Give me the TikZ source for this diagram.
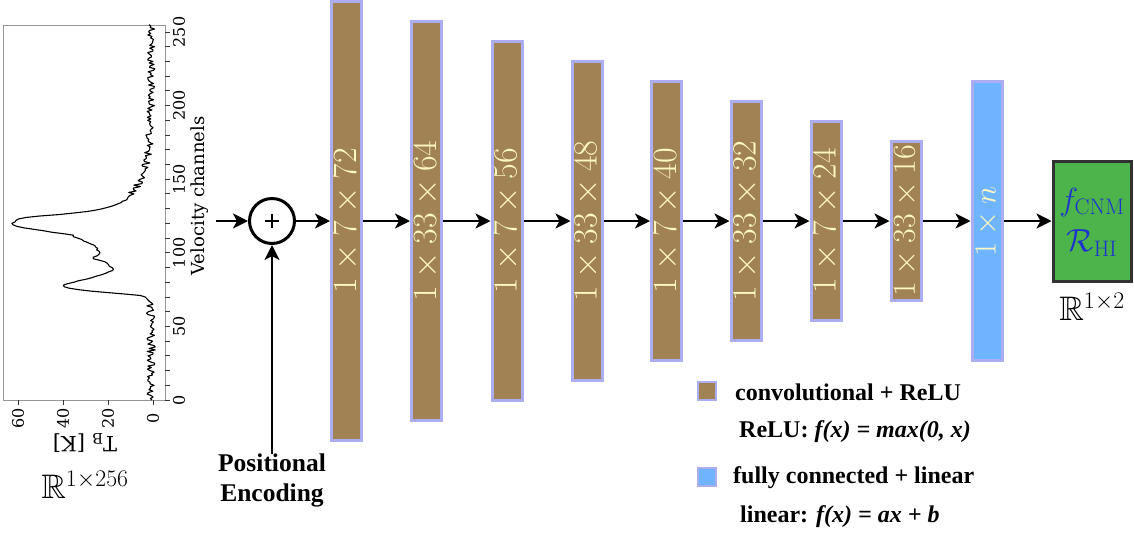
\RequirePackage{fix-cm}
\documentclass[tikz,border=0pt]{standalone}
\usepackage{amssymb}
\usepackage{fontspec}
\newfontfamily\plotfont{DejaVu Serif}
\newfontfamily\legfont{Liberation Serif}
\usetikzlibrary{arrows.meta}
\definecolor{brownc}{RGB}{160,130,85}
\definecolor{lavc}{RGB}{172,172,240}
\definecolor{bluec}{RGB}{110,180,255}
\definecolor{greenc}{RGB}{76,180,74}
\definecolor{lemon}{RGB}{255,248,195}
\definecolor{mathblue}{RGB}{30,50,205}
\definecolor{framec}{RGB}{150,150,150}
\begin{document}
\begin{tikzpicture}[x=1pt,y=-1pt,
  layer/.style={draw=lavc, line width=3, minimum width=30, inner sep=0},
  conv/.style={layer, fill=brownc},
  fc/.style={layer, fill=bluec},
  lbl/.style={rotate=90, text=lemon, inner sep=0, font=\fontsize{34}{40}\selectfont},
  arr/.style={line width=2.5, -{Stealth[length=15,width=15,inset=4]}},
  tick/.style={line width=0.9, black!80},
  ptxt/.style={font=\plotfont\fontsize{16}{19}\selectfont, inner sep=0},
  legtxt/.style={font=\legfont\bfseries\fontsize{24}{28}\selectfont, anchor=west, inner sep=0},
  legbox/.style={draw=lavc, line width=2.5, minimum width=18, minimum height=18, inner sep=0}]
\useasboundingbox (0,0) rectangle (1134,542);

% ---------- spectrum plot ----------
\pgfmathsetseed{7}
\draw[framec, line width=1] (3,25) rectangle (165,400);
\foreach \c in {0,10,...,250} \draw[tick] (165,{400-1.472*\c}) -- (170,{400-1.472*\c});
\foreach \c in {0,50,...,250} \node[ptxt, rotate=90] at (179,{400-1.472*\c}) {\c};
\foreach \t in {0,20,40,60} {
  \draw[tick] ({153-2.25*\t},400) -- ({153-2.25*\t},405);
  \node[ptxt, rotate=90] at ({153-2.25*\t},418) {\t};
}
\node[ptxt, rotate=180, font=\plotfont\fontsize{21}{24}\selectfont] (tb) at (85,443) {T\textsubscript{B} [K]};
\node[ptxt, rotate=90, font=\plotfont\fontsize{18}{21}\selectfont] (vc) at (200,196) {Velocity channels};
\draw[black, line width=1.1, line join=round] (152,400)
  \foreach \c in {1,...,70} { -- ({153-2.25*(0.8+2.2*exp((\c-70)/6)+1.8*rand)},{400-1.472*\c}) }
  \foreach \c/\t in {71/6,72/12,73/20,74/28,75/33,76/37,77/39,78/39.5,79/38,80/35.5,81/33,82/30,83/27.5,84/25,85/23,86/21,87/19.5,88/18.5,89/18,90/18.5,91/19,92/19.5,93/20,94/21,95/24,96/27,97/26,98/24.5,99/23.5,100/23.5,101/24,102/24.5,103/25,104/25.5,105/26.5,106/27.5,107/29,108/30.5,109/32,110/33.5,111/35,112/36,113/40,114/45,115/49,116/53,117/57,118/60.5,119/62,120/62.5,121/61.5,122/60.5,123/59.5,124/57,125/50,126/42,127/35,128/29,129/25,130/22.5,131/20,132/18,133/16,134/14.5,135/13,136/12,137/11,138/10.5,139/10}
     { -- ({153-2.25*(\t+0.6*rand)},{400-1.472*\c}) }
  \foreach \c in {140,...,255} { -- ({153-2.25*(0.8+9*exp(-(\c-140)/15)+1.7*rand)},{400-1.472*\c}) };
\node[font=\fontsize{34}{40}\selectfont, inner sep=0] (rin) at (85,485) {$\mathbb{R}^{1\times256}$};

% ---------- network ----------
\coordinate (in) at (216,221);
\node[circle, draw, line width=3, minimum size=45, inner sep=0] (plus) at (272,221) {};
\draw[line width=1.6] (265,221) -- (279,221) (272,214) -- (272,228);
\node[font=\legfont\bfseries\fontsize{25.5}{30}\selectfont, align=center, anchor=north, inner sep=0] (pe) at (272,454) {Positional\\Encoding};

\node[conv, minimum height=439] (b1) at (346.5,221) {};
\node[conv, minimum height=399] (b2) at (426.5,221) {};
\node[conv, minimum height=359] (b3) at (507,221) {};
\node[conv, minimum height=319] (b4) at (587,221) {};
\node[conv, minimum height=279] (b5) at (666.5,221) {};
\node[conv, minimum height=239] (b6) at (746,221) {};
\node[conv, minimum height=199] (b7) at (826,221) {};
\node[conv, minimum height=159] (b8) at (906,221) {};
\node[fc, minimum height=279] (b9) at (987,221) {};
\node[draw={rgb,255:red,50;green,50;blue,50}, line width=3, fill=greenc, minimum width=78, minimum height=120, inner sep=0] (out) at (1092,221) {};

\node[lbl] (l1) at (b1) {$1\times7\times72$};
\node[lbl] (l2) at (b2) {$1\times33\times64$};
\node[lbl] (l3) at (b3) {$1\times7\times56$};
\node[lbl] (l4) at (b4) {$1\times33\times48$};
\node[lbl] (l5) at (b5) {$1\times7\times40$};
\node[lbl] (l6) at (b6) {$1\times33\times32$};
\node[lbl] (l7) at (b7) {$1\times7\times24$};
\node[lbl, font=\fontsize{32}{38}\selectfont] (l8) at (b8) {$1\times33\times16$};
\node[lbl, font=\fontsize{31}{36}\selectfont] (l9) at (b9) {$1\times n$};
\node[text=mathblue, font=\fontsize{32}{36}\selectfont, inner sep=0] (of) at (1092,202) {$f_{\mathrm{CNM}}$};
\node[text=mathblue, font=\fontsize{32}{36}\selectfont, inner sep=0] (orr) at (1092,243) {$\mathcal{R}_{\mathrm{HI}}$};
\node[font=\fontsize{34}{40}\selectfont, inner sep=0] (rout) at (1092,307) {$\mathbb{R}^{1\times2}$};

\draw[arr] (in) -- (plus.west);
\draw[arr] (pe.north) -- (plus.south);
\draw[arr] (plus.east) -- (b1.west);
\draw[arr] (b1.east) -- (b2.west);
\draw[arr] (b2.east) -- (b3.west);
\draw[arr] (b3.east) -- (b4.west);
\draw[arr] (b4.east) -- (b5.west);
\draw[arr] (b5.east) -- (b6.west);
\draw[arr] (b6.east) -- (b7.west);
\draw[arr] (b7.east) -- (b8.west);
\draw[arr] (b8.east) -- (b9.west);
\draw[arr] (b9.east) -- (out.west);

% ---------- legend ----------
\node[legbox, fill=brownc] (k1) at (707,391) {};
\node[legtxt] (t1) at (735,392) {convolutional + ReLU};
\node[legtxt] (t2) at (739,432) {ReLU: \itshape f(x) = max(0, x)};
\node[legbox, fill=bluec] (k2) at (707,477) {};
\node[legtxt] (t3) at (733,478) {fully connected + linear};
\node[legtxt] (t4) at (740,517) {linear: \itshape f(x) = ax + b};
\end{tikzpicture}
\end{document}
